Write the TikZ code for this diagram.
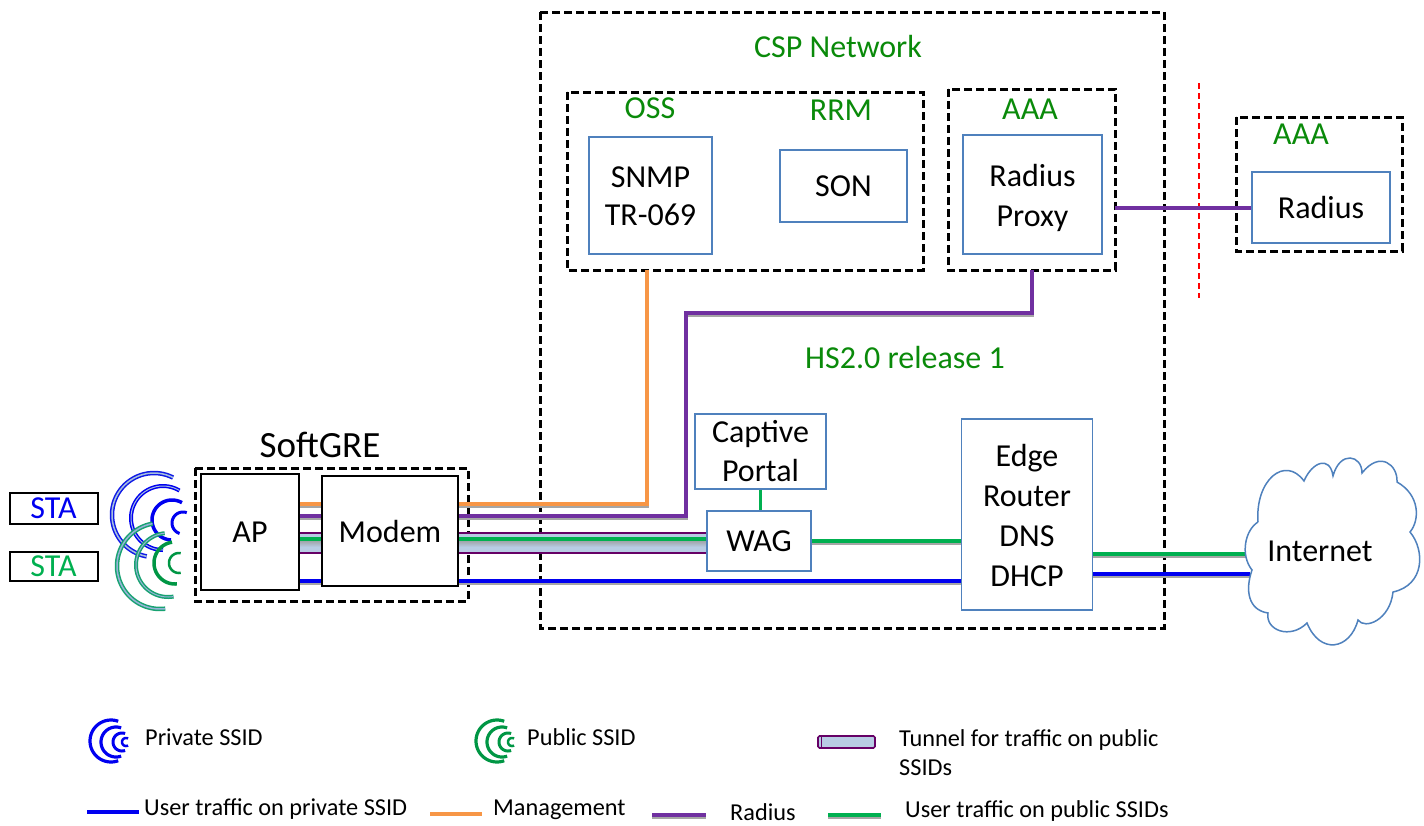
\documentclass[tikz,border=0pt]{standalone}
\usepackage{fontspec}
\setmainfont{Carlito}
\usetikzlibrary{calc}
\definecolor{grn}{HTML}{00B050}
\definecolor{lblgrn}{HTML}{0A8A0A}
\definecolor{bluew}{HTML}{0000F0}
\definecolor{orng}{HTML}{F79646}
\definecolor{purp}{HTML}{7030A0}
\definecolor{dpurp}{HTML}{660066}
\definecolor{edge}{HTML}{4F81BD}
\definecolor{tun}{HTML}{B8CCE4}
\newcommand{\fs}[1]{\fontsize{#1}{#1}\selectfont}
\newcommand{\wavearc}[6]{\draw[#1] plot[domain=#5:#6,samples=40,smooth] ({#2+#4*cos(\x)},{#3-#4*sin(\x)});}
\tikzset{
  x=1pt,y=-1pt,
  bluebox/.style={draw=edge,line width=1.5pt,fill=white,align=center,font=\fs{32},inner sep=0pt},
  blackbox/.style={draw=black,line width=2pt,fill=white,align=center,font=\fs{32},inner sep=0pt},
  dashbox/.style={draw=black,line width=3pt,dash pattern=on 8pt off 4pt},
  lbl/.style={text=lblgrn,font=\fs{32},inner sep=0pt},
  legendtxt/.style={font=\fs{24.3},anchor=west,inner sep=0pt},
  shad/.style={preaction={draw=black!35,line width=3pt,transform canvas={yshift=-2.5pt}}},
  mgmt/.style={draw=orng,line width=3.5pt},
  rad/.style={draw=purp,line width=3.5pt},
  pub/.style={draw=grn,line width=3.5pt},
  priv/.style={draw=bluew,line width=3.5pt},
  tubeedge/.style={draw=dpurp,line width=1.7pt},
}
\begin{document}
\begin{tikzpicture}
\useasboundingbox (0,0) rectangle (1424,825);
% dashed containers
\draw[dashbox] (540,12) rectangle (1164,628);
\draw[dashbox] (567,92) rectangle (923,270);
\draw[dashbox] (948,89) rectangle (1115,270);
\draw[dashbox] (1236,117) rectangle (1402,251);
\draw[dashbox] (195,468) rectangle (468,601);
\draw[red,line width=1.3pt,dash pattern=on 6pt off 4pt] (1199,83) -- (1199,298);
% nodes
\node[bluebox,minimum width=123pt,minimum height=117pt] (snmp) at (650.5,195.5) {\rule{0pt}{23pt}SNMP\\[6pt]TR-069};
\node[bluebox,minimum width=127pt,minimum height=72pt] (son) at (843.5,186) {SON};
\node[bluebox,minimum width=139pt,minimum height=119pt] (proxy) at (1032.5,194.5) {\rule{0pt}{29pt}Radius\\[8pt]Proxy};
\node[bluebox,minimum width=138pt,minimum height=71pt] (radius) at (1321,207.5) {Radius};
\node[bluebox,minimum width=131pt,minimum height=75pt] (captive) at (760.5,451.5) {Captive\\[7pt]Portal};
\coordinate (oss) at (647,270);
\coordinate (aaa) at (1032,270);
\coordinate (aaaout) at (1115,208);
\coordinate (lv1) at (0,504);
\coordinate (lv2) at (0,516);
\coordinate (lv3) at (0,533);
\coordinate (lv4) at (0,539);
\coordinate (lv5) at (0,553);
\coordinate (lv6) at (0,581);
\coordinate (lv7) at (0,541);
\coordinate (lv8) at (0,554);
\coordinate (lv9) at (0,574);
% layer of connectors placed under boxes
\node[bluebox,minimum width=104pt,minimum height=60pt] (wag) at (759,541) {};
\node[bluebox,minimum width=131pt,minimum height=191pt] (edgeb) at (1027,514.5) {};
\node[blackbox,minimum width=98pt,minimum height=116pt] (ap) at (250,532) {};
\node[blackbox,minimum width=136pt,minimum height=110pt] (modem) at (390,531) {};
\fill[tun] (ap.east |- lv3) rectangle (wag.west |- lv5);
\shade[top color=black!40,bottom color=tun] (ap.east |- lv4) rectangle ($(wag.west |- lv4)+(0,8)$);
\draw[tubeedge] (ap.east |- lv3) -- (wag.west |- lv3);
\draw[tubeedge] (ap.east |- lv5) -- (wag.west |- lv5);
\draw[mgmt,shad] (ap.east |- lv1) -- (oss |- lv1) -- (oss);
\draw[rad,shad] (ap.east |- lv2) -- (686,516) -- (686,313) -- (aaa |- 0,313) -- (aaa);
\draw[pub] (ap.east |- lv4) -- (wag.west |- lv4);
\draw[priv,shad] (ap.east |- lv6) -- (edgeb.west |- lv6);
\draw[pub,shad] (wag.east |- lv7) -- (edgeb.west |- lv7);
\draw[rad] (aaaout) -- (radius.west |- aaaout);
\draw[pub] (captive.south) -- (wag.north -| captive.south);
% boxes on top of connectors
\node[bluebox,minimum width=104pt,minimum height=60pt] at (wag) {WAG};
\node[bluebox,minimum width=131pt,minimum height=191pt] at (edgeb) {\rule{0pt}{24pt}Edge\\[8pt]Router\\[8pt]DNS\\[8pt]DHCP};
\node[blackbox,minimum width=98pt,minimum height=116pt] at (ap) {AP};
\node[blackbox,minimum width=136pt,minimum height=110pt] at (modem) {Modem};
% cloud
\coordinate (inetw) at (1250,554);
\draw[pub,shad] (edgeb.east |- lv8) -- (inetw |- lv8);
\draw[priv,shad] (edgeb.east |- lv9) -- (inetw |- lv9);
\filldraw[draw=edge,fill=white,line width=1.5pt]
 (1258,522) .. controls (1255,480) and (1285,455) .. (1304,481)
 .. controls (1312,462) and (1330,455) .. (1333,476)
 .. controls (1340,450) and (1362,455) .. (1362,473)
 .. controls (1380,450) and (1398,465) .. (1397,482)
 .. controls (1420,495) and (1420,520) .. (1410,532)
 .. controls (1425,550) and (1425,585) .. (1393,592)
 .. controls (1390,620) and (1365,630) .. (1358,620)
 .. controls (1350,650) and (1320,655) .. (1307,623)
 .. controls (1290,640) and (1265,630) .. (1268,613)
 .. controls (1248,610) and (1245,590) .. (1252,570)
 .. controls (1240,555) and (1245,530) .. (1258,522);
\node[font=\fs{32},inner sep=0pt] (inet) at (1320,551) {Internet};
% stations
\node[blackbox,font=\fs{32},text=bluew,minimum width=88pt,minimum height=31pt] (sta1) at (53.5,508.5) {STA};
\node[blackbox,font=\fs{32},text=grn,minimum width=88pt,minimum height=29pt] (sta2) at (53.5,566.5) {STA};
% private waves
\wavearc{bluew!80!edge,line width=4.5pt}{154}{515}{42}{-100}{-297}
\wavearc{white!50!edge,line width=1.5pt}{154}{515}{42}{-100}{-297}
\wavearc{bluew,line width=4pt}{163}{518}{32}{-90}{-301}
\wavearc{white!50!edge,line width=1pt}{163}{518}{32}{-90}{-301}
\wavearc{bluew,line width=3.5pt}{172}{520}{20}{-93}{-300}
\wavearc{bluew,line width=3pt}{183}{523}{11}{-108}{-290}
% public waves
\wavearc{grn!70!edge,line width=4.5pt}{160}{566}{43}{-83}{-260}
\wavearc{white!40!edge,line width=1.5pt}{160}{566}{43}{-83}{-260}
\wavearc{grn!70!edge,line width=4pt}{168}{565}{32}{-80}{-264}
\wavearc{white!40!edge,line width=1pt}{168}{565}{32}{-80}{-264}
\wavearc{grn!85!black,line width=3.5pt}{175}{563}{21}{-85}{-262}
\wavearc{grn!85!black,line width=2.5pt}{179}{563}{10}{-80}{-280}
% labels
\node[lbl] (csp) at (838,47) {CSP Network};
\node[lbl] (osst) at (650,108) {OSS};
\node[lbl] (rrm) at (841,110) {RRM};
\node[lbl] (aaa1) at (1030,109) {AAA};
\node[lbl] (aaa2) at (1301,134) {AAA};
\node[lbl] (hs) at (905,358) {HS2.0 release 1};
\node[font=\fs{37},inner sep=0pt] (gre) at (320,445) {SoftGRE};
% legend
\wavearc{bluew,line width=3.2pt}{111}{741}{21}{-70}{-290}
\wavearc{bluew,line width=3.2pt}{116}{742}{15}{-70}{-290}
\wavearc{bluew,line width=3pt}{122}{742}{9}{-70}{-290}
\wavearc{bluew,line width=2.5pt}{126}{742}{4}{-60}{-300}
\node[legendtxt] (l1) at (145,737) {Private SSID};
\wavearc{grn!85!black,line width=3.2pt}{497}{741}{21}{-70}{-290}
\wavearc{grn!85!black,line width=3.2pt}{502}{742}{15}{-70}{-290}
\wavearc{grn!85!black,line width=3pt}{508}{742}{9}{-70}{-290}
\wavearc{grn!85!black,line width=2.5pt}{512}{742}{4}{-60}{-300}
\node[legendtxt] (l2) at (527,737) {Public SSID};
\draw[tubeedge,fill=tun,rounded corners=1.5pt] (818,736) rectangle (875,748);
\draw[dpurp,line width=1pt] (821,736) -- (821,748);
\node[legendtxt] (l3) at (899,740) {Tunnel for traffic on public};
\node[legendtxt] (l3b) at (899,768) {SSIDs};
\coordinate (a1) at (87,812); \coordinate (a2) at (139,812);
\draw[priv] (a1) -- (a2);
\node[legendtxt] (l4) at (144,809) {User traffic on private SSID};
\coordinate (b1) at (430,814); \coordinate (b2) at (482,814);
\draw[mgmt] (b1) -- (b2);
\node[legendtxt] (l5) at (493,810) {Management};
\coordinate (c1) at (652,815); \coordinate (c2) at (706,815);
\draw[rad,shad] (c1) -- (c2);
\node[legendtxt] (l6) at (730,812) {Radius};
\coordinate (d1) at (828,815); \coordinate (d2) at (881,815);
\draw[pub,shad] (d1) -- (d2);
\node[legendtxt] (l7) at (905,811) {User traffic on public SSIDs};
\end{tikzpicture}
\end{document}
